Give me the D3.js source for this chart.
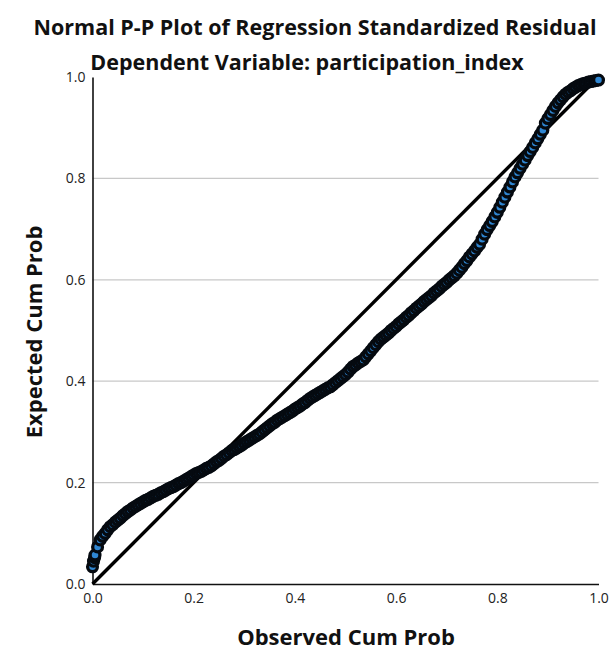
<!DOCTYPE html>
<html>
<head>
<meta charset="utf-8">
<script src="https://cdn.jsdelivr.net/npm/d3@7"></script>
<style>
  html, body { margin: 0; padding: 0; background: #fff; }
  svg { display: block; }
  text { font-family: "Open Sans", "DejaVu Sans", sans-serif; }
</style>
</head>
<body>
<svg id="chart" width="614" height="652"></svg>
<script>
const titleText = "Normal P-P Plot of Regression Standardized Residual";
const subtitleText = "Dependent Variable: participation_index";
const xAxisLabel = "Observed Cum Prob";
const yAxisLabel = "Expected Cum Prob";
const tickValues = [0, 0.2, 0.4, 0.6, 0.8, 1.0];
const gridValues = [0.2, 0.4, 0.6, 0.8];
const diagonal = [[0, 0], [1, 1]];

const observed = [
0.000,0.002,0.004,0.005,0.010,0.015,0.020,0.025,0.030,0.035,0.040,0.045,0.050,0.055,0.060,0.065,0.070,0.075,0.080,0.085,
0.090,0.095,0.100,0.105,0.110,0.115,0.120,0.125,0.130,0.135,0.140,0.145,0.150,0.155,0.160,0.165,0.170,0.175,0.180,0.185,
0.190,0.195,0.200,0.205,0.210,0.215,0.220,0.225,0.230,0.235,0.240,0.245,0.250,0.255,0.260,0.265,0.270,0.275,0.280,0.285,
0.290,0.295,0.300,0.305,0.310,0.315,0.320,0.325,0.330,0.335,0.340,0.345,0.350,0.355,0.360,0.365,0.370,0.375,0.380,0.385,
0.390,0.395,0.400,0.405,0.410,0.415,0.420,0.425,0.430,0.435,0.440,0.445,0.450,0.455,0.460,0.465,0.470,0.475,0.480,0.485,
0.490,0.495,0.500,0.505,0.510,0.515,0.520,0.525,0.530,0.535,0.540,0.545,0.550,0.555,0.560,0.565,0.570,0.575,0.580,0.585,
0.590,0.595,0.600,0.605,0.610,0.615,0.620,0.625,0.630,0.635,0.640,0.645,0.650,0.655,0.660,0.665,0.670,0.675,0.680,0.685,
0.690,0.695,0.700,0.705,0.710,0.715,0.720,0.725,0.730,0.735,0.740,0.745,0.750,0.755,0.760,0.765,0.770,0.775,0.780,0.785,
0.790,0.795,0.800,0.805,0.810,0.815,0.820,0.825,0.830,0.835,0.840,0.845,0.850,0.855,0.860,0.865,0.870,0.875,0.880,0.885,
0.890,0.895,0.900,0.905,0.910,0.915,0.920,0.925,0.930,0.935,0.940,0.945,0.950,0.955,0.960,0.965,0.970,0.975,0.980,0.985,
0.990,0.995,1.000
];
const expected = [
0.034,0.045,0.052,0.057,0.073,0.087,0.094,0.100,0.107,0.113,0.117,0.122,0.126,0.130,0.135,0.139,0.143,0.146,0.150,0.153,
0.156,0.159,0.162,0.165,0.167,0.170,0.173,0.175,0.177,0.180,0.182,0.185,0.188,0.190,0.192,0.195,0.198,0.200,0.203,0.206,
0.209,0.212,0.215,0.218,0.220,0.222,0.225,0.228,0.230,0.233,0.237,0.241,0.244,0.248,0.252,0.255,0.259,0.263,0.265,0.268,
0.271,0.274,0.278,0.281,0.284,0.287,0.290,0.293,0.296,0.300,0.304,0.308,0.312,0.316,0.319,0.323,0.326,0.329,0.332,0.335,
0.338,0.341,0.345,0.348,0.351,0.355,0.358,0.362,0.366,0.369,0.372,0.375,0.378,0.381,0.384,0.387,0.389,0.393,0.397,0.401,
0.405,0.409,0.413,0.418,0.424,0.429,0.432,0.436,0.439,0.442,0.448,0.454,0.460,0.466,0.472,0.478,0.483,0.487,0.491,0.495,
0.500,0.504,0.508,0.513,0.517,0.521,0.526,0.530,0.535,0.539,0.544,0.548,0.552,0.557,0.561,0.565,0.569,0.574,0.578,0.582,
0.587,0.591,0.595,0.600,0.604,0.608,0.613,0.619,0.625,0.632,0.638,0.645,0.651,0.657,0.664,0.670,0.680,0.690,0.699,0.707,
0.715,0.724,0.733,0.743,0.753,0.763,0.773,0.783,0.793,0.803,0.811,0.820,0.828,0.836,0.845,0.853,0.861,0.870,0.878,0.887,
0.895,0.909,0.918,0.926,0.934,0.942,0.949,0.955,0.961,0.966,0.970,0.973,0.977,0.980,0.983,0.985,0.987,0.988,0.990,0.991,
0.992,0.993,0.994
];

const svg = d3.select("#chart");
const margin = { left: 92.5, right: 15.5, top: 77, bottom: 68 };
const W = 614, H = 652;

const x = d3.scaleLinear().domain([0, 1]).range([margin.left, W - margin.right]);
const y = d3.scaleLinear().domain([0, 1]).range([H - margin.bottom, margin.top]);

// gridlines
svg.append("g").selectAll("line").data(gridValues).join("line")
  .attr("x1", x(0)).attr("x2", x(1))
  .attr("y1", d => y(d)).attr("y2", d => y(d))
  .attr("stroke", "#c8c8c8").attr("stroke-width", 1.2);

// axes
const xAxis = d3.axisBottom(x).tickValues(tickValues).tickFormat(d3.format(".1f")).tickSize(0).tickPadding(9);
const yAxis = d3.axisLeft(y).tickValues(tickValues).tickFormat(d3.format(".1f")).tickSize(0).tickPadding(7);

const gx = svg.append("g").attr("transform", `translate(0,${y(0)})`).call(xAxis);
const gy = svg.append("g").attr("transform", `translate(${x(0)},0)`).call(yAxis);
[gx, gy].forEach(g => {
  g.select(".domain").attr("stroke", "#111").attr("stroke-width", 1.6);
  g.selectAll("text").attr("font-size", 14).attr("fill", "#222")
    .style("font-family", "'Open Sans', 'DejaVu Sans', sans-serif");
});

// diagonal reference line
svg.append("path")
  .datum(diagonal)
  .attr("d", d3.line().x(d => x(d[0])).y(d => y(d[1])))
  .attr("stroke", "#000").attr("stroke-width", 3.4).attr("fill", "none");

// points
const pts = observed.map((o, i) => ({ o, e: expected[i] }));
svg.append("g").selectAll("circle").data(pts).join("circle")
  .attr("cx", d => x(d.o)).attr("cy", d => y(d.e))
  .attr("r", 4.9)
  .attr("fill", "#2f86d2")
  .attr("stroke", "#050a10").attr("stroke-width", 3.3);

// titles
svg.append("text").attr("x", 315).attr("y", 35).attr("text-anchor", "middle")
  .attr("font-size", 21.5).attr("font-weight", 700).attr("fill", "#111").text(titleText);
svg.append("text").attr("x", 307).attr("y", 70).attr("text-anchor", "middle")
  .attr("font-size", 21.5).attr("font-weight", 700).attr("fill", "#111").text(subtitleText);

svg.append("text").attr("x", 346).attr("y", 645).attr("text-anchor", "middle")
  .attr("font-size", 22).attr("font-weight", 700).attr("fill", "#111").text(xAxisLabel);
svg.append("text").attr("transform", "translate(42,332) rotate(-90)").attr("text-anchor", "middle")
  .attr("font-size", 22).attr("font-weight", 700).attr("fill", "#111").text(yAxisLabel);
</script>
</body>
</html>
